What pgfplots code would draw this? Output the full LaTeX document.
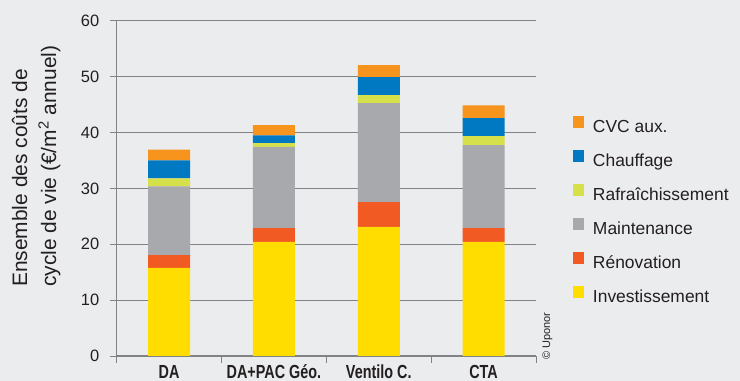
\documentclass[border=0pt]{standalone}
\usepackage{pgfplots}
\pgfplotsset{compat=1.18}
\usepackage{fontspec}
\setmainfont{Liberation Sans}
\newfontfamily\condfont[FakeStretch=0.76]{Liberation Sans}

\definecolor{bg}{HTML}{EBECEE}
\definecolor{ink}{HTML}{231F20}
\definecolor{gridgray}{HTML}{808285}
\definecolor{cInv}{HTML}{FFDD00}
\definecolor{cRen}{HTML}{F15A22}
\definecolor{cMaint}{HTML}{A7A9AC}
\definecolor{cRaf}{HTML}{D5E04B}
\definecolor{cChauf}{HTML}{0079C2}
\definecolor{cCVC}{HTML}{F7941D}

\begin{document}
\begin{tikzpicture}
% page background and fixed page size
\fill[bg] (0,0) rectangle (740bp,381bp);
\path[use as bounding box] (0,0) rectangle (740bp,381bp);

% y-axis title, two lines reading upwards
\node[rotate=90, anchor=base west, inner sep=0pt, font=\fontsize{21}{25}\selectfont, text=ink]
  at (27bp,94bp) {Ensemble des coûts de};
\node[rotate=90, anchor=base west, inner sep=0pt, font=\fontsize{21}{25}\selectfont, text=ink]
  at (56bp,94bp) {cycle de vie (€/m\textsuperscript{2} annuel)};

% credit
\node[rotate=90, anchor=base, inner sep=0pt, font=\fontsize{11}{13}\selectfont, text=ink]
  at (550bp,45bp) {© Uponor};

\begin{axis}[
  at={(116.7bp,25bp)}, anchor=south west,
  scale only axis, width=419.3bp, height=335.3bp,
  ybar stacked, bar width=42bp,
  xmin=-0.5, xmax=3.5, ymin=0, ymax=60,
  axis lines*=left,
  axis line style={gridgray, line width=1bp},
  tick align=outside,
  xtick={0,1,2,3},
  xticklabels={DA, DA+PAC Géo., Ventilo C., CTA},
  major x tick style={draw=none},
  minor xtick={-0.5,0.5,1.5,2.5,3.5},
  minor tick length=6.5bp,
  minor x tick style={gridgray, line width=1bp},
  ytick={0,10,...,60},
  major tick length=6.5bp,
  ytick style={gridgray, line width=1bp},
  ymajorgrids,
  grid style={gridgray, line width=1.1bp},
  /pgf/number format/assume math mode=true,
  yticklabel style={font=\fontsize{16.5}{19}\selectfont, text=ink, xshift=-7.5bp},
  xticklabel style={font=\condfont\bfseries\fontsize{19}{22}\selectfont, text=ink, anchor=base, yshift=-15.5bp},
  reverse legend,
  legend image code/.code={\fill[#1] (0bp,0bp) rectangle (11.4bp,11.4bp); \path (20bp,0bp);},
  legend style={
    at={(axis description cs:1.0882,0.7152)}, anchor=north west,
    draw=none, fill=none, inner sep=0pt, outer sep=0pt,
    row sep=14.6bp,
    font=\fontsize{17.5}{21}\selectfont,
    text=ink,
    nodes={inner sep=0pt, text height=12.5bp, text depth=3.5bp},
  },
  legend cell align=left,
]
\addplot[draw=none, fill=cInv]   coordinates {(0,15.75) (1,20.4) (2,23.1)  (3,20.4)};
\addplot[draw=none, fill=cRen]   coordinates {(0,2.3)   (1,2.5)  (2,4.45)  (3,2.5)};
\addplot[draw=none, fill=cMaint] coordinates {(0,12.3)  (1,14.5) (2,17.7)  (3,14.85)};
\addplot[draw=none, fill=cRaf]   coordinates {(0,1.45)  (1,0.7)  (2,1.45)  (3,1.6)};
\addplot[draw=none, fill=cChauf] coordinates {(0,3.2)   (1,1.4)  (2,3.2)   (3,3.2)};
\addplot[draw=none, fill=cCVC]   coordinates {(0,1.95)  (1,1.8)  (2,2.15)  (3,2.3)};
\legend{Investissement, Rénovation, Maintenance, Rafraîchissement, Chauffage, CVC aux.}
\end{axis}
\end{tikzpicture}
\end{document}
